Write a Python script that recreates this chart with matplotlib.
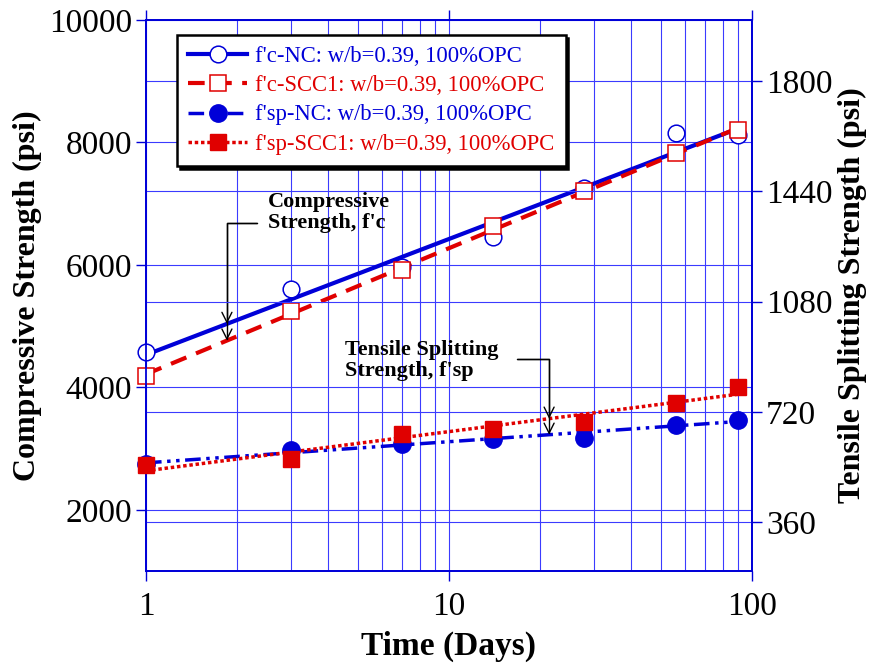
import numpy as np
import matplotlib
matplotlib.use("Agg")
import matplotlib.pyplot as plt
from matplotlib.lines import Line2D

plt.rcParams['font.family'] = ['Liberation Serif', 'DejaVu Serif']

# edades de ensayo (días)
dias = [1, 3, 7, 14, 28, 56, 90]

# resistencia a compresión f'c (psi), eje izquierdo
fc_nc = [4570, 5600, 5960, 6460, 7260, 8160, 8120]
fc_scc1 = [4180, 5240, 5910, 6630, 7200, 7820, 8200]

# resistencia a tracción indirecta f'sp (psi), eje derecho
fsp_nc = [548, 596, 616, 632, 636, 678, 694]
fsp_scc1 = [547, 566, 649, 665, 688, 750, 802]

etiquetas = ["f'c-NC: w/b=0.39, 100%OPC",
             "f'c-SCC1: w/b=0.39, 100%OPC",
             "f'sp-NC: w/b=0.39, 100%OPC",
             "f'sp-SCC1: w/b=0.39, 100%OPC"]

y_izq_ticks = [2000, 4000, 6000, 8000, 10000]
y_der_ticks = [360, 720, 1080, 1440, 1800]

AZUL = '#0000d8'
ROJO = '#e00000'
GRID = '#3b3bff'


def ajuste_log(x, y):
    # recta de regresion y = a*log10(x) + b
    a, b = np.polyfit(np.log10(x), y, 1)
    return lambda t: a * np.log10(t) + b


fig = plt.figure(figsize=(8.73, 6.66), dpi=100)
ax = fig.add_axes([0.1672, 0.1426, 0.6942, 0.8274])
ax2 = ax.twinx()

t = np.logspace(0, np.log10(dias[-1]), 200)

estilos = [
    dict(color=AZUL, lw=3, ls='-'),
    dict(color=ROJO, lw=3, ls=(0, (4, 2.5))),
    dict(color=AZUL, lw=2.5, ls=(0, (4.5, 1.6, 1.0, 1.6, 1.0, 1.6))),
    dict(color=ROJO, lw=2.5, ls=(0, (1.0, 0.8))),
]
marcadores = [
    dict(marker='o', ms=12, mfc='white', mec=AZUL, mew=1.1),
    dict(marker='s', ms=12, mfc='white', mec=ROJO, mew=1.1),
    dict(marker='o', ms=12.5, mfc=AZUL, mec=AZUL, mew=1),
    dict(marker='s', ms=12, mfc=ROJO, mec=ROJO, mew=1),
]

series = [(ax, fc_nc), (ax, fc_scc1), (ax2, fsp_nc), (ax2, fsp_scc1)]
ajustes = []
for (eje, vals), est, mk in zip(series, estilos, marcadores):
    f = ajuste_log(dias, vals)
    ajustes.append(f)
    eje.plot(t, f(t), zorder=3, **est)
    eje.plot(dias, vals, ls='none', zorder=4, clip_on=False, **mk)

ax.set_xscale('log')
ax.set_xlim(1, 100)
ax.set_ylim(1000, 10000)
ax2.set_ylim(200, 2000)
ax.set_yticks(y_izq_ticks)
ax2.set_yticks(y_der_ticks)
ax.set_xticks([1, 10, 100])
ax.set_xticklabels(['1', '10', '100'])

ax.grid(True, which='both', axis='x', color=GRID, lw=0.8)
ax.grid(True, which='major', axis='y', color=GRID, lw=0.8)
ax2.grid(True, which='major', axis='y', color=GRID, lw=0.8)
ax.set_axisbelow(True)

for eje in (ax, ax2):
    for s in eje.spines.values():
        s.set_color(AZUL)
        s.set_linewidth(1.3)
    eje.tick_params(which='major', direction='out', length=7, width=1,
                    color=AZUL, labelsize=24, pad=3)
    eje.tick_params(which='minor', length=0)
ax.tick_params(axis='x', top=True, pad=8)

ax.set_xlabel('Time (Days)', fontsize=24, fontweight='bold', labelpad=6)
ax.set_ylabel('Compressive Strength (psi)', fontsize=23, fontweight='bold', labelpad=5)
ax2.set_ylabel('Tensile Splitting Strength (psi)', fontsize=23, fontweight='bold', labelpad=4)

# anotaciones con flecha doble hacia las dos rectas
ax.text(2.53, 6860, "Compressive\nStrength, f'c", fontsize=16, fontweight='bold',
        va='center', ha='left', linespacing=1.05)
xa = 1.85
for f in ajustes[:2]:
    ax.annotate('', xy=(xa, f(xa)), xytext=(2.32, 6680),
                arrowprops=dict(arrowstyle='->', color='k', lw=1, shrinkA=0, shrinkB=0,
                                mutation_scale=18,
                                connectionstyle='angle,angleA=0,angleB=90,rad=0'))

ax2.text(4.54, 888, "Tensile Splitting\nStrength, f'sp", fontsize=16, fontweight='bold',
         va='center', ha='left', linespacing=1.05)
xb = 21.4
for f in ajustes[2:]:
    ax2.annotate('', xy=(xb, f(xb)), xytext=(16.8, 894),
                 arrowprops=dict(arrowstyle='->', color='k', lw=1, shrinkA=0, shrinkB=0,
                                 mutation_scale=18,
                                 connectionstyle='angle,angleA=0,angleB=90,rad=0'))

handles = [Line2D([], [], **{**est, **mk}) for est, mk in zip(estilos, marcadores)]
leg = ax2.legend(handles, etiquetas, loc='upper left', bbox_to_anchor=(0.051, 0.973),
                 borderaxespad=0, fontsize=16.3, numpoints=1, handlelength=2.6,
                 labelspacing=0.36, handletextpad=0.35, borderpad=0.5, fancybox=False,
                 framealpha=1, edgecolor='black', labelcolor='linecolor',
                 shadow={'facecolor': 'black', 'edgecolor': 'black', 'alpha': 1})
leg.get_frame().set_linewidth(1.8)
leg.set_zorder(10)

fig.savefig('out.png', dpi=100)
